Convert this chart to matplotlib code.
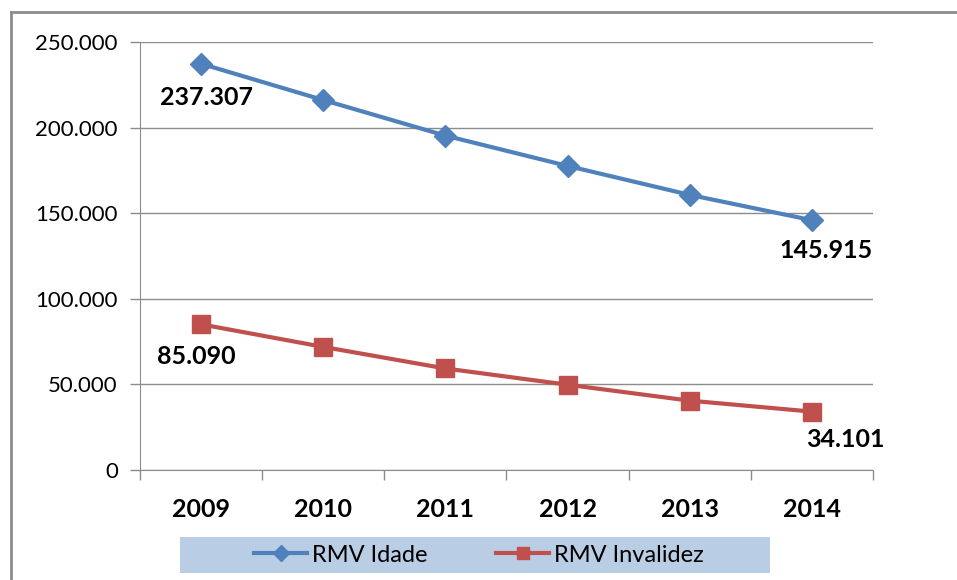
import matplotlib
matplotlib.use("Agg")
import matplotlib.pyplot as plt
from matplotlib.patches import Rectangle
from matplotlib.ticker import FuncFormatter, FixedLocator

plt.rcParams['font.family'] = ['Lato', 'DejaVu Sans']

years = ['2009', '2010', '2011', '2012', '2013', '2014']
idade = [237307, 216100, 195300, 177600, 160700, 145915]
invalidez = [85090, 71900, 59300, 49800, 40500, 34101]

blue = '#4f81bd'
red = '#c0504d'
grid_col = '#8c8c8c'

fig = plt.figure(figsize=(9.57, 5.80), dpi=100)

# outer frame: only the left and top edges are visible in the crop
bg = fig.add_axes([11/957, 0, 1 - 11/957, 1 - 12/580], zorder=-1)
bg.set_xticks([])
bg.set_yticks([])
bg.patch.set_visible(False)
for s in ['right', 'bottom']:
    bg.spines[s].set_visible(False)
for s in ['left', 'top']:
    bg.spines[s].set_color(grid_col)
    bg.spines[s].set_linewidth(2)

ax = fig.add_axes([140/957, 1 - 470/580, 733/957, 428/580])

x = range(len(years))
ax.plot(x, idade, color=blue, lw=3, marker='D', ms=11, label='RMV Idade', zorder=3)
ax.plot(x, invalidez, color=red, lw=3, marker='s', ms=13, label='RMV Invalidez', zorder=3)

ax.set_xlim(-0.5, 5.5)
ax.set_ylim(0, 250000)
ax.set_yticks(range(0, 250001, 50000))
ax.yaxis.set_major_formatter(FuncFormatter(lambda v, p: '0' if v == 0 else f'{int(v):,}'.replace(',', '.')))
ax.grid(axis='y', color=grid_col, lw=1)
ax.set_axisbelow(True)

ax.xaxis.set_major_locator(FixedLocator([i - 0.5 for i in range(7)]))
ax.set_xticklabels([])
ax.xaxis.set_minor_locator(FixedLocator(list(x)))
ax.set_xticklabels(years, minor=True, fontsize=18, fontweight='bold')
ax.tick_params(axis='x', which='major', length=7, color=grid_col, width=1)
ax.tick_params(axis='x', which='minor', length=0, pad=20)
ax.tick_params(axis='y', length=7, color=grid_col, width=1, labelsize=16, pad=9)

for s in ['top', 'right']:
    ax.spines[s].set_visible(False)
for s in ['left', 'bottom']:
    ax.spines[s].set_color(grid_col)

# data labels
labels = [(0, idade[0], 5, -34), (5, idade[5], 14, -30),
          (0, invalidez[0], -5, -32), (5, invalidez[5], 33, -28)]
for xi, yv, dx, dy in labels:
    ax.annotate(f'{yv:,}'.replace(',', '.'), (xi, yv), xytext=(dx, dy),
                textcoords='offset pixels', ha='center', va='center',
                fontsize=18, fontweight='bold', color='black')

# legend background
fig.patches.append(Rectangle((180/957, 1 - 573/580), 590/957, 36/580,
                             transform=fig.transFigure, facecolor='#b9cde5',
                             edgecolor='none', zorder=0))
fig.legend(loc='center', bbox_to_anchor=(479/957, 1 - 555/580), ncol=2,
           frameon=False, fontsize=17, handlelength=2.25, columnspacing=2.9,
           handletextpad=0.2, markerscale=0.7)

fig.savefig('out.png', dpi=100)
